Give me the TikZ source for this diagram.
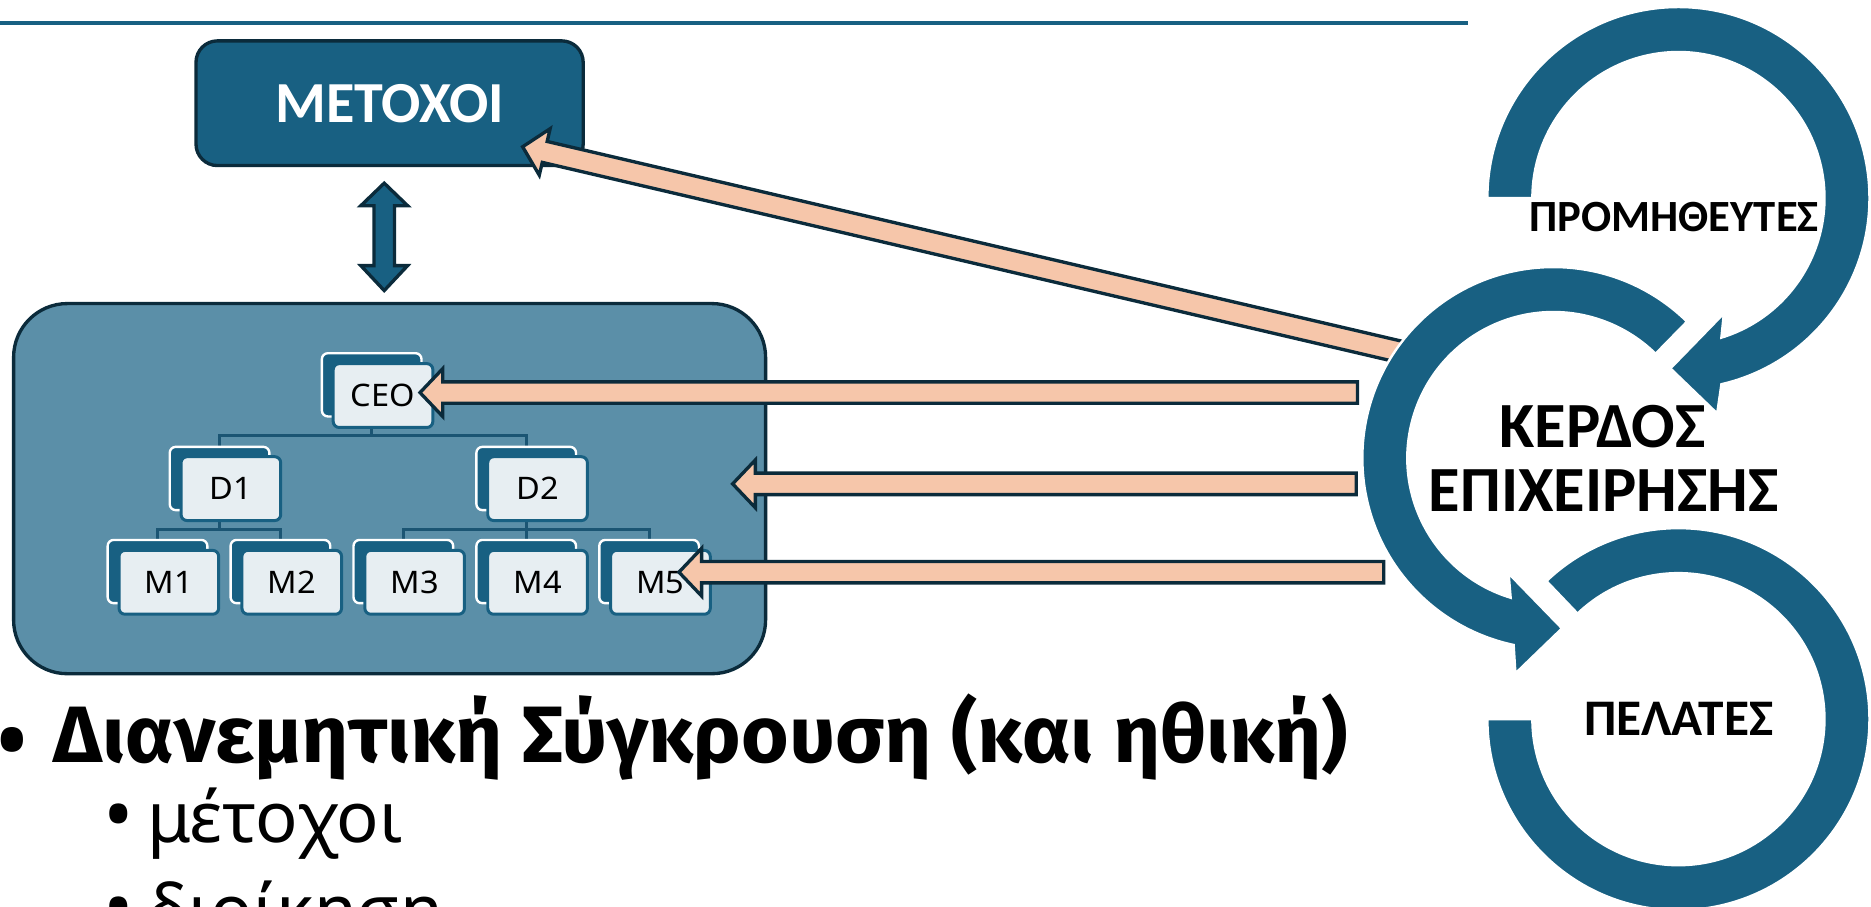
\documentclass[tikz,border=0pt]{standalone}
\usepackage{fontspec}
\usetikzlibrary{calc}
\newfontfamily\calb{Carlito}
\newfontfamily\noto{Noto Sans}
\newfontfamily\notow[FakeStretch=1.05]{Noto Sans}
\newfontfamily\firab[FakeStretch=1.02]{Fira Sans}
\definecolor{ringblue}{HTML}{186082}
\definecolor{darkline}{HTML}{0B2B3B}
\definecolor{orgfill}{HTML}{5B8FA8}
\definecolor{peach}{HTML}{F6C6AA}
\definecolor{lightbox}{HTML}{E7EEF2}
\definecolor{connc}{HTML}{1B5573}
\pgfdeclarelayer{bg}\pgfdeclarelayer{mid}\pgfsetlayers{bg,mid,main}
% tail, tip, half shaft, half head, head length
\newcommand\blockarrow[5]{%
  \coordinate (ba-h) at ($(#2)!#5!(#1)$);
  \filldraw[peacharrow] ($(#1)!#3!90:(#2)$) -- ($(ba-h)!#3!90:(#2)$) -- ($(ba-h)!#4!90:(#2)$) -- (#2)
    -- ($(ba-h)!#4!-90:(#2)$) -- ($(ba-h)!#3!-90:(#2)$) -- ($(#1)!#3!-90:(#2)$) -- cycle;}
\begin{document}
\begin{tikzpicture}[x=1pt,y=1pt,
  metbox/.style={draw=darkline, line width=2.8pt, fill=ringblue, rounded corners=18pt,
    minimum width=324.5pt, minimum height=104.5pt, text=white, inner sep=0pt,
    font=\calb\bfseries\fontsize{48.7}{58}\selectfont},
  orgbox/.style={draw=darkline, line width=2.8pt, fill=orgfill, rounded corners=45pt,
    minimum width=630.2pt, minimum height=310.2pt, inner sep=0pt},
  backbox/.style={draw=white, line width=2pt, fill=ringblue, rounded corners=5pt,
    minimum width=83.5pt, minimum height=53pt, inner sep=0pt},
  frontbox/.style={draw=ringblue, line width=2.5pt, fill=lightbox, rounded corners=5pt,
    minimum width=83.5pt, minimum height=53.5pt, inner sep=0pt,
    font=\notow\fontsize{26}{31}\selectfont},
  conn/.style={draw=connc, line width=2.5pt},
  peacharrow/.style={fill=peach, draw=darkline, line width=2.8pt, line join=miter},
  ring/.style={fill=ringblue, draw=white, line width=2pt},
  ringlabel/.style={font=\calb\bfseries, anchor=base, inner sep=0pt},
  bultext/.style={anchor=base west, inner sep=0pt},
  buldot/.style={anchor=base, inner sep=0pt},
]
\useasboundingbox (0,0) rectangle (1568,-760);
\clip (0,0) rectangle (1568,-760);

% top rule
\draw[ringblue, line width=3.4pt] (0,-19.5) -- (1230,-19.5);

% shareholders box
\node[metbox] (met) at (326.5,-86.5) {ΜΕΤΟΧΟΙ};

% organisation box
\begin{pgfonlayer}{bg}
\node[orgbox] (org) at (326.5,-409.5) {};
\end{pgfonlayer}

% double arrow
\filldraw[fill=ringblue, draw=darkline, line width=2.8pt, line join=miter]
  (322,-153.5) -- (341.6,-172.4) -- (330.6,-172.4) -- (330.6,-222.6) -- (341.6,-222.6)
  -- (322,-243.5) -- (302.4,-222.6) -- (313.4,-222.6) -- (313.4,-172.4) -- (302.4,-172.4) -- cycle;

% tree
\node[backbox] (ceoB) at (311.5,-322.5) {};
\node[frontbox] (ceo) at (321,-331.5) {CEO};
\node[backbox] (d1B) at (184,-401) {};
\node[frontbox] (d1) at (193.5,-409.5) {D1};
\node[backbox] (d2B) at (441,-401) {};
\node[frontbox] (d2) at (450.5,-409.5) {D2};
\foreach \i/\x in {1/132,2/235,3/338,4/441,5/544}{
  \node[backbox] (m\i B) at (\x,-479) {};
  \node[frontbox] (m\i) at (\x+9.5,-488) {M\i};
}
\begin{pgfonlayer}{mid}
\draw[conn] (ceoB.south) -- ++(0,-15) -| (d1B.north);
\draw[conn] (ceoB.south) -- ++(0,-15) -| (d2B.north);
\draw[conn] (d1B.south) -- ++(0,-15) -| (m1B.north);
\draw[conn] (d1B.south) -- ++(0,-15) -| (m2B.north);
\draw[conn] (d2B.south) -- ++(0,-15) -| (m3B.north);
\draw[conn] (d2B.south) -- ++(0,-15) -| (m5B.north);
\draw[conn] (d2B.south) -- (m4B.north);
\end{pgfonlayer}

% peach arrows
\coordinate (a1t) at (1180,-296.4); \coordinate (a1h) at (438,-123);
\coordinate (a2t) at (1137.6,-329); \coordinate (a2h) at (352,-329);
\coordinate (a3t) at (1136.6,-405.5); \coordinate (a3h) at (614,-405.5);
\coordinate (a4t) at (1159.6,-479.5); \coordinate (a4h) at (569,-479.5);
\blockarrow{a1t}{a1h}{9pt}{20pt}{19pt}
\blockarrow{a2t}{a2h}{9pt}{20pt}{19pt}
\blockarrow{a3t}{a3h}{9pt}{20pt}{19pt}
\blockarrow{a4t}{a4h}{9pt}{20pt}{19pt}

% circular arrows
\coordinate (c1) at (1406.6,-166);
\coordinate (c2) at (1301.8,-383.9);
\coordinate (c3) at (1406.6,-602.7);
\filldraw[ring] ($(c1)+(180:160.1)$) arc[start angle=180, end angle=-77, radius=160.1]
  -- ($(c1)+(-79.8:183.4)$) -- ($(c1)+(-92.7:142.9)$) -- ($(c1)+(-68.5:103.9)$)
  -- ($(c1)+(-72.9:122.4)$) arc[start angle=-72.9, end angle=180, radius=122.4] -- cycle;
\filldraw[ring] ($(c3)+(180:160.1)$) arc[start angle=180, end angle=493.7, radius=160.1]
  -- ($(c3)+(493.7:122.4)$) arc[start angle=493.7, end angle=180, radius=122.4] -- cycle;
\filldraw[ring] ($(c2)+(45.6:160.1)$) arc[start angle=45.6, end angle=258, radius=160.1]
  -- ($(c2)+(260:183.2)$) -- ($(c2)+(272.9:142.9)$) -- ($(c2)+(248.8:103.7)$)
  -- ($(c2)+(253:122.4)$) arc[start angle=253, end angle=45.6, radius=122.4] -- cycle;

\node[ringlabel, font=\calb\bfseries\fontsize{37.4}{44}\selectfont] (sup) at (1403,-194) {ΠΡΟΜΗΘΕΥΤΕΣ};
\node[ringlabel, font=\calb\bfseries\fontsize{54}{64}\selectfont] (pro1) at (1343,-375) {ΚΕΡΔΟΣ};
\node[ringlabel, font=\calb\bfseries\fontsize{54}{64}\selectfont] (pro2) at (1344,-429) {ΕΠΙΧΕΙΡΗΣΗΣ};
\node[ringlabel, font=\calb\bfseries\fontsize{43}{51}\selectfont] (cus) at (1407,-616) {ΠΕΛΑΤΕΣ};

% bullets
\node[buldot, font=\noto\fontsize{84}{96}\selectfont] (b1) at (10.3,-651) {•};
\node[bultext, font=\firab\bfseries\fontsize{67}{78}\selectfont] (t1) at (45,-639) {Διανεμητική Σύγκρουση (και ηθική)};
\node[buldot, font=\noto\fontsize{68}{80}\selectfont] (b2) at (99.5,-707) {•};
\node[bultext, font=\noto\fontsize{59}{70}\selectfont] (t2) at (123,-706) {μέτοχοι};
\node[buldot, font=\noto\fontsize{68}{80}\selectfont] (b3) at (99.5,-785) {•};
\node[bultext, font=\noto\fontsize{59}{70}\selectfont] (t3) at (123,-784) {διοίκηση};
\end{tikzpicture}
\end{document}
